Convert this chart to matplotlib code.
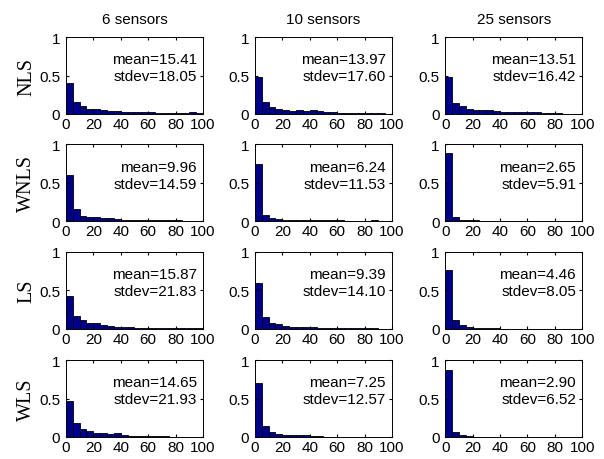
# Error histograms: 4 estimators x 3 sensor counts

import numpy as np
from matplotlib import pyplot as plt

plt.rcParams['font.family'] = ['Liberation Sans', 'DejaVu Sans']

methods = ['NLS', 'WNLS', 'LS', 'WLS']
sensors = ['6 sensors', '10 sensors', '25 sensors']
bin_edges = np.arange(0, 100, 5)

# relative frequency per 5-unit bin
nls_6 = [0.41, 0.16, 0.10, 0.07, 0.06, 0.05, 0.04, 0.04, 0.03, 0.03,
         0.025, 0.02, 0.02, 0.015, 0.015, 0.01, 0.01, 0.01, 0.02, 0.01]
nls_10 = [0.48, 0.16, 0.09, 0.07, 0.05, 0.04, 0.05, 0.04, 0.05, 0.04,
          0.03, 0.02, 0.015, 0.015, 0.01, 0.01, 0.01, 0.01, 0.01, 0.005]
nls_25 = [0.48, 0.14, 0.10, 0.07, 0.05, 0.05, 0.05, 0.04, 0.03, 0.03,
          0.03, 0.03, 0.02, 0.02, 0.015, 0.01, 0.01, 0.0, 0.0, 0.0]
wnls_6 = [0.60, 0.16, 0.07, 0.06, 0.05, 0.04, 0.04, 0.03, 0.02, 0.02,
          0.02, 0.02, 0.015, 0.015, 0.01, 0.01, 0.01, 0.005, 0.005, 0.005]
wnls_10 = [0.75, 0.08, 0.04, 0.03, 0.02, 0.02, 0.02, 0.015, 0.02, 0.015,
           0.01, 0.01, 0.01, 0.005, 0.005, 0.005, 0.005, 0.01, 0.005, 0.0]
wnls_25 = [0.89, 0.05, 0.02, 0.01, 0.01, 0.005, 0.005, 0.005, 0.005, 0.0,
           0.0, 0.0, 0.0, 0.0, 0.0, 0.0, 0.0, 0.0, 0.0, 0.0]
ls_6 = [0.43, 0.17, 0.11, 0.08, 0.07, 0.05, 0.04, 0.03, 0.02, 0.02,
        0.015, 0.015, 0.01, 0.01, 0.01, 0.01, 0.005, 0.005, 0.005, 0.005]
ls_10 = [0.60, 0.15, 0.07, 0.06, 0.04, 0.03, 0.03, 0.02, 0.02, 0.01,
         0.01, 0.01, 0.005, 0.005, 0.005, 0.005, 0.005, 0.005, 0.0, 0.0]
ls_25 = [0.77, 0.12, 0.05, 0.02, 0.01, 0.01, 0.005, 0.005, 0.0, 0.0,
         0.0, 0.0, 0.0, 0.0, 0.0, 0.0, 0.0, 0.0, 0.0, 0.0]
wls_6 = [0.47, 0.18, 0.10, 0.08, 0.05, 0.05, 0.04, 0.05, 0.03, 0.01,
         0.01, 0.01, 0.01, 0.01, 0.01, 0.005, 0.005, 0.005, 0.005, 0.005]
wls_10 = [0.70, 0.14, 0.06, 0.04, 0.03, 0.02, 0.02, 0.02, 0.01, 0.01,
          0.005, 0.005, 0.005, 0.005, 0.005, 0.0, 0.0, 0.0, 0.0, 0.0]
wls_25 = [0.87, 0.06, 0.02, 0.01, 0.005, 0.005, 0.005, 0.0, 0.0, 0.0,
          0.0, 0.0, 0.0, 0.0, 0.0, 0.0, 0.0, 0.0, 0.0, 0.0]

hists = [[nls_6, nls_10, nls_25],
         [wnls_6, wnls_10, wnls_25],
         [ls_6, ls_10, ls_25],
         [wls_6, wls_10, wls_25]]

means = [['15.41', '13.97', '13.51'],
         ['9.96', '6.24', '2.65'],
         ['15.87', '9.39', '4.46'],
         ['14.65', '7.25', '2.90']]
stdevs = [['18.05', '17.60', '16.42'],
          ['14.59', '11.53', '5.91'],
          ['21.83', '14.10', '8.05'],
          ['21.93', '12.57', '6.52']]

fig = plt.figure(figsize=(6.04, 4.60), dpi=100)

lefts = [0.109, 0.422, 0.737]
bottoms = [0.75, 0.517, 0.283, 0.048]
w, h = 0.227, 0.167

for i in range(4):
    for j in range(3):
        ax = fig.add_axes([lefts[j], bottoms[i], w, h])
        ax.bar(bin_edges, hists[i][j], width=5, align='edge',
               color='#00008f', edgecolor='black', linewidth=0.6)
        ax.set_xlim(0, 100)
        ax.set_ylim(0, 1)
        ax.set_xticks([0, 20, 40, 60, 80, 100])
        ax.set_yticks([0, 0.5, 1])
        ax.set_yticklabels(['0', '0.5', '1'])
        ax.tick_params(direction='in', length=2.5, labelsize=11,
                       top=True, right=True)
        ax.tick_params(axis='x', pad=2)
        ax.tick_params(axis='y', pad=4)
        for s in ax.spines.values():
            s.set_linewidth(0.7)
        ax.text(0.955, 0.71, 'mean=' + means[i][j], transform=ax.transAxes,
                ha='right', va='center', fontsize=11)
        ax.text(0.955, 0.49, 'stdev=' + stdevs[i][j], transform=ax.transAxes,
                ha='right', va='center', fontsize=11)
        if i == 0:
            ax.set_title(sensors[j], fontsize=11, pad=10)
        if j == 0:
            ax.set_ylabel(methods[i], family=['Liberation Serif'],
                          fontsize=14.5, labelpad=2)

plt.savefig('out.png', dpi=100)
